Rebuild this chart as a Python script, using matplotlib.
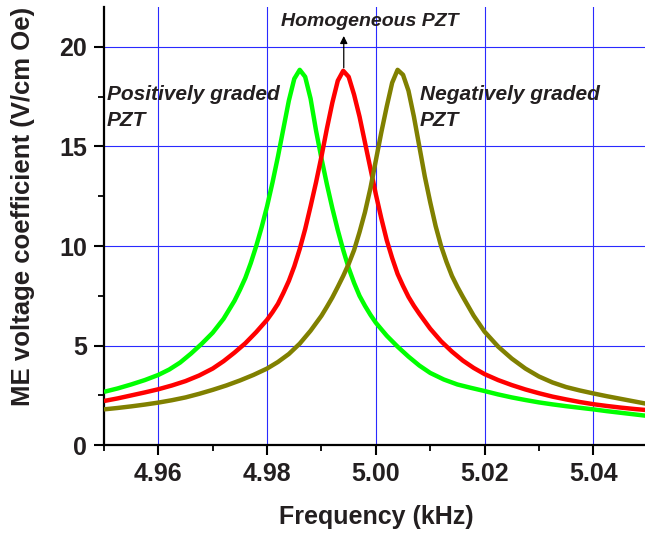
import numpy as np
import matplotlib
matplotlib.use("Agg")
import matplotlib.pyplot as plt
from matplotlib.ticker import MultipleLocator, FormatStrFormatter

plt.rcParams['font.family'] = ['Liberation Sans', 'DejaVu Sans']

# Data (frequency in kHz, ME coefficient in V/cm Oe)
# Positively graded PZT (green)
freq_pos = [4.950, 4.9525, 4.955, 4.9575, 4.960, 4.962, 4.964, 4.966, 4.968, 4.970,
            4.972, 4.974, 4.975, 4.976, 4.977, 4.978, 4.979, 4.980, 4.981, 4.982,
            4.983, 4.984, 4.985, 4.986, 4.987, 4.988, 4.989, 4.990, 4.991, 4.992,
            4.993, 4.994, 4.995, 4.996, 4.997, 4.998, 4.999, 5.000, 5.002, 5.004,
            5.006, 5.008, 5.010, 5.0125, 5.015, 5.0175, 5.020, 5.0225, 5.025, 5.0275,
            5.030, 5.0325, 5.035, 5.0375, 5.040, 5.0425, 5.045, 5.0475, 5.050]
me_pos = [2.68, 2.85, 3.05, 3.27, 3.53, 3.8, 4.15, 4.6, 5.1, 5.65,
          6.35, 7.25, 7.8, 8.4, 9.15, 10.0, 10.95, 12.0, 13.2, 14.5,
          15.9, 17.3, 18.4, 18.85, 18.5, 17.4, 15.8, 14.4, 13.1, 11.9,
          10.8, 9.8, 8.9, 8.15, 7.5, 7.0, 6.55, 6.15, 5.5, 4.95,
          4.45, 4.0, 3.63, 3.3, 3.05, 2.88, 2.72, 2.55, 2.4, 2.27,
          2.15, 2.05, 1.96, 1.88, 1.80, 1.71, 1.63, 1.55, 1.47]

# Homogeneous PZT (red)
freq_hom = [4.950, 4.9525, 4.955, 4.9575, 4.960, 4.9625, 4.965, 4.9675, 4.970, 4.972,
            4.974, 4.976, 4.978, 4.980, 4.981, 4.982, 4.983, 4.984, 4.985, 4.986,
            4.987, 4.988, 4.989, 4.990, 4.991, 4.992, 4.993, 4.994, 4.995, 4.996,
            4.997, 4.998, 4.999, 5.000, 5.001, 5.002, 5.003, 5.004, 5.005, 5.006,
            5.007, 5.008, 5.010, 5.012, 5.014, 5.016, 5.018, 5.020, 5.0225, 5.025,
            5.0275, 5.030, 5.0325, 5.035, 5.0375, 5.040, 5.0425, 5.045, 5.0475, 5.050]
me_hom = [2.22, 2.35, 2.5, 2.65, 2.81, 3.0, 3.22, 3.5, 3.85, 4.22,
          4.65, 5.12, 5.68, 6.3, 6.68, 7.1, 7.65, 8.25, 8.98, 9.85,
          10.85, 12.0, 13.2, 14.5, 15.9, 17.2, 18.3, 18.8, 18.5, 17.6,
          16.5, 15.2, 13.9, 12.6, 11.4, 10.3, 9.4, 8.6, 8.0, 7.45,
          7.0, 6.6, 5.85, 5.22, 4.7, 4.25, 3.88, 3.57, 3.27, 3.02,
          2.8, 2.61, 2.44, 2.3, 2.17, 2.06, 1.97, 1.89, 1.82, 1.76]

# Negatively graded PZT (olive)
freq_neg = [4.950, 4.9525, 4.955, 4.9575, 4.960, 4.9625, 4.965, 4.9675, 4.970, 4.9725,
            4.975, 4.9775, 4.980, 4.982, 4.984, 4.986, 4.988, 4.990, 4.991, 4.992,
            4.993, 4.994, 4.995, 4.996, 4.997, 4.998, 4.999, 5.000, 5.001, 5.002,
            5.003, 5.004, 5.005, 5.006, 5.007, 5.008, 5.009, 5.010, 5.011, 5.012,
            5.013, 5.014, 5.015, 5.016, 5.018, 5.020, 5.0225, 5.025, 5.0275, 5.030,
            5.0325, 5.035, 5.0375, 5.040, 5.0425, 5.045, 5.0475, 5.050]
me_neg = [1.80, 1.87, 1.95, 2.04, 2.14, 2.26, 2.4, 2.58, 2.78, 3.0,
          3.25, 3.53, 3.85, 4.18, 4.58, 5.1, 5.75, 6.5, 6.95, 7.42,
          7.95, 8.5, 9.1, 9.8, 10.7, 11.7, 12.9, 14.3, 15.7, 17.0,
          18.2, 18.85, 18.6, 17.8, 16.5, 15.0, 13.5, 12.2, 11.0, 10.0,
          9.2, 8.5, 7.95, 7.45, 6.5, 5.7, 4.95, 4.35, 3.85, 3.45,
          3.15, 2.92, 2.75, 2.6, 2.46, 2.33, 2.2, 2.07]

xticks = [4.96, 4.98, 5.00, 5.02, 5.04]
yticks = [0, 5, 10, 15, 20]

text_col = '#231f20'

fig = plt.figure(figsize=(6.45, 5.33), dpi=100)
ax = fig.add_axes([0.1612, 0.1647, 0.843, 0.822])

line_kw = dict(lw=3.2, zorder=3, solid_joinstyle='round', solid_capstyle='butt')
ax.plot(freq_pos, me_pos, color='#00ff00', **line_kw)
ax.plot(freq_hom, me_hom, color='#ff0000', **line_kw)
ax.plot(freq_neg, me_neg, color='#808000', **line_kw)

ax.set_xlim(4.95, 5.05)
ax.set_ylim(0, 22)
ax.set_xticks(xticks)
ax.set_yticks(yticks)
ax.xaxis.set_minor_locator(MultipleLocator(0.01))
ax.yaxis.set_minor_locator(MultipleLocator(2.5))
ax.xaxis.set_major_formatter(FormatStrFormatter('%.2f'))

ax.grid(True, which='major', color='#2a2aff', lw=0.8)
ax.set_axisbelow(True)

for s in ['top', 'right']:
    ax.spines[s].set_visible(False)
for s in ['left', 'bottom']:
    ax.spines[s].set_linewidth(1.6)

ax.tick_params(which='major', direction='out', length=7, width=1.5,
               labelsize=18, labelcolor=text_col, pad=5)
ax.tick_params(which='minor', direction='out', length=4, width=1.3)
for lbl in ax.get_xticklabels() + ax.get_yticklabels():
    lbl.set_fontweight('bold')

ax.set_xlabel('Frequency (kHz)', fontsize=18, fontweight='bold', color=text_col,
              labelpad=14)
fig.text(23 / 645, 1 - 206 / 533, 'ME voltage coefficient (V/cm Oe)', rotation=90,
         ha='center', va='center', fontsize=18.5, fontweight='bold', color=text_col)

lab = dict(fontsize=15, fontweight='bold', fontstyle='italic', color=text_col,
           va='baseline', ha='left')
ax.text(4.9505, 17.35, 'Positively graded', **lab)
ax.text(4.9505, 16.04, 'PZT', **lab)
ax.text(5.0081, 17.35, 'Negatively graded', **lab)
ax.text(5.0081, 16.04, 'PZT', **lab)
lab['fontsize'] = 14
ax.text(4.9826, 21.07, 'Homogeneous PZT', **lab)

ax.annotate('', xy=(4.9941, 20.55), xytext=(4.9941, 18.95),
            arrowprops=dict(arrowstyle='-|>', color='black', lw=0.9,
                            mutation_scale=11, shrinkA=0, shrinkB=0))

fig.savefig('out.png', dpi=100)
